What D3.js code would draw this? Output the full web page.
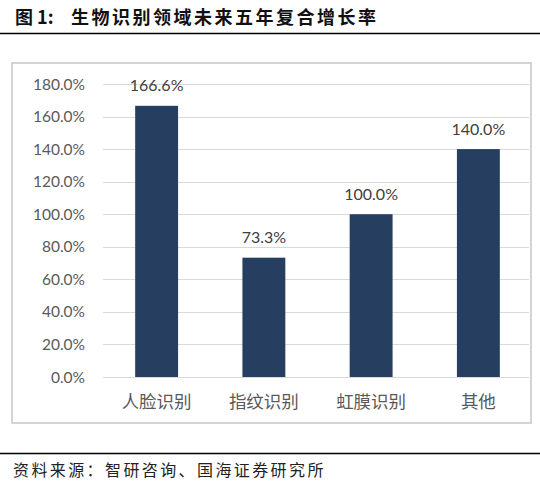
<!DOCTYPE html>
<html>
<head>
<meta charset="utf-8">
<script src="https://cdn.jsdelivr.net/npm/d3@7"></script>
<style>
  html, body { margin: 0; padding: 0; background: #fff; }
  svg { display: block; }
</style>
</head>
<body>
<svg id="chart" width="540" height="485"></svg>
<script>
// 데이터
var categories = ["人脸识别", "指纹识别", "虹膜识别", "其他"];
var values = [166.6, 73.3, 100.0, 140.0];
var yTicks = [0, 20, 40, 60, 80, 100, 120, 140, 160, 180];
var titlePrefix = "图 1:";
var titleText = "生物识别领域未来五年复合增长率";
var sourceText = "资料来源：智研咨询、国海证券研究所";

var svg = d3.select("#chart");
var cjk = "'Noto Sans CJK SC', 'Noto Sans', sans-serif";
var num = "Lato, 'Liberation Sans', Arial, sans-serif";

// 제목 + 선
svg.append("text")
  .attr("x", 15).attr("y", 24)
  .attr("font-family", cjk).attr("font-size", 18)
  .attr("font-weight", "bold")
  .attr("fill", "#111")
  .text(titlePrefix);
svg.append("text")
  .attr("x", 71).attr("y", 24)
  .attr("font-family", cjk).attr("font-size", 18)
  .attr("font-weight", "bold").attr("letter-spacing", 2.5)
  .attr("fill", "#111")
  .text(titleText);
svg.append("line")
  .attr("x1", 0).attr("x2", 540).attr("y1", 33.5).attr("y2", 33.5)
  .attr("stroke", "#000").attr("stroke-width", 1.3);

// 차트 테두리
svg.append("rect")
  .attr("x", 12).attr("y", 63).attr("width", 519).attr("height", 360)
  .attr("fill", "#fff").attr("stroke", "#d4d4d4").attr("stroke-width", 2);

var x = d3.scaleBand().domain(categories).range([103, 532])
  .paddingInner(0.6).paddingOuter(0.3);
var y = d3.scaleLinear().domain([0, 180]).range([377, 84]);

// 눈금선
svg.append("g").selectAll("line")
  .data(yTicks).enter().append("line")
  .attr("x1", 103).attr("x2", 529)
  .attr("y1", function(d){ return Math.round(y(d)) + 0.5; })
  .attr("y2", function(d){ return Math.round(y(d)) + 0.5; })
  .attr("stroke", "#d9d9d9").attr("stroke-width", 1);

// y축 라벨
svg.append("g").selectAll("text")
  .data(yTicks).enter().append("text")
  .attr("x", 85)
  .attr("y", function(d){ return y(d) + 5.5; })
  .attr("text-anchor", "end")
  .attr("font-family", num).attr("font-size", 15.5)
  .attr("fill", "#595959")
  .text(function(d){ return d.toFixed(1) + "%"; });

// 막대
svg.append("g").selectAll("rect")
  .data(values).enter().append("rect")
  .attr("x", function(d, i){ return x(categories[i]); })
  .attr("y", function(d){ return y(d); })
  .attr("width", x.bandwidth())
  .attr("height", function(d){ return y(0) - y(d); })
  .attr("fill", "#263e5f");

// 값 라벨
svg.append("g").selectAll("text")
  .data(values).enter().append("text")
  .attr("x", function(d, i){ return x(categories[i]) + x.bandwidth() / 2; })
  .attr("y", function(d){ return y(d) - 14.5; })
  .attr("text-anchor", "middle")
  .attr("font-family", num).attr("font-size", 16)
  .attr("fill", "#404040")
  .text(function(d){ return d.toFixed(1) + "%"; });

// x축 라벨
svg.append("g").selectAll("text")
  .data(categories).enter().append("text")
  .attr("x", function(d){ return x(d) + x.bandwidth() / 2; })
  .attr("y", 407.5)
  .attr("text-anchor", "middle")
  .attr("font-family", cjk).attr("font-size", 17.5)
  .attr("fill", "#595959")
  .text(function(d){ return d; });

// 출처
svg.append("line")
  .attr("x1", 0).attr("x2", 540).attr("y1", 453.5).attr("y2", 453.5)
  .attr("stroke", "#000").attr("stroke-width", 1.3);
svg.append("text")
  .attr("x", 13).attr("y", 476)
  .attr("font-family", cjk).attr("font-size", 16)
  .attr("letter-spacing", 2.4)
  .attr("fill", "#222")
  .text(sourceText);
</script>
</body>
</html>
